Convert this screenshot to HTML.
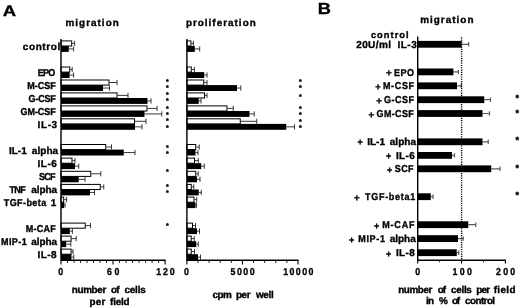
<!DOCTYPE html>
<html><head><meta charset="utf-8"><title>Figure</title>
<style>
html,body{margin:0;padding:0;background:#fff;}
svg{display:block;font-family:"Liberation Sans", sans-serif;font-weight:bold;fill:#000;}
text{stroke:#000;stroke-width:0.35px;text-rendering:geometricPrecision;}
</style></head><body>
<svg width="520" height="308" viewBox="0 0 520 308">
<rect width="520" height="308" fill="#fff"/>
<path d="M72.2 43.40H74.6M74.6 40.80V46.00" stroke="#222" stroke-width="0.9" fill="none"/>
<path d="M68.8 48.95H73.6M73.6 46.35V51.55" stroke="#222" stroke-width="0.9" fill="none"/>
<rect x="61.0" y="40.90" width="10.70" height="5.10" fill="#fff" stroke="#000" stroke-width="1"/>
<rect x="61.0" y="46.00" width="7.80" height="5.90" fill="#000"/>
<text x="22.79" y="49.9" style="font-size:10px;letter-spacing:0.603px;">control</text>
<path d="M70.2 69.50H72.2M72.2 66.90V72.10" stroke="#222" stroke-width="0.9" fill="none"/>
<path d="M69.6 75.05H73.6M73.6 72.45V77.65" stroke="#222" stroke-width="0.9" fill="none"/>
<rect x="61.0" y="67.00" width="8.70" height="5.10" fill="#fff" stroke="#000" stroke-width="1"/>
<rect x="61.0" y="72.10" width="8.60" height="5.90" fill="#000"/>
<text transform="translate(37.64 76.2) scale(0.9 1)" style="font-size:10px;letter-spacing:-0.719px;">EPO</text>
<path d="M109.5 82.50H117M117 79.90V85.10" stroke="#222" stroke-width="0.9" fill="none"/>
<path d="M103 88.05H109.5M109.5 85.45V90.65" stroke="#222" stroke-width="0.9" fill="none"/>
<rect x="61.0" y="80.00" width="48.00" height="5.10" fill="#fff" stroke="#000" stroke-width="1"/>
<rect x="61.0" y="85.10" width="42.00" height="5.90" fill="#000"/>
<text transform="translate(27.14 89.1) scale(0.9 1)" style="font-size:10px;letter-spacing:0.017px;">M-CSF</text>
<path d="M117.5 95.40H128M128 92.80V98.00" stroke="#222" stroke-width="0.9" fill="none"/>
<path d="M147.5 100.95H151M151 98.35V103.55" stroke="#222" stroke-width="0.9" fill="none"/>
<rect x="61.0" y="92.90" width="56.00" height="5.10" fill="#fff" stroke="#000" stroke-width="1"/>
<rect x="61.0" y="98.00" width="86.50" height="5.90" fill="#000"/>
<text transform="translate(28.62 101.9) scale(0.9 1)" style="font-size:10px;letter-spacing:-0.256px;">G-CSF</text>
<path d="M147.5 108.40H157M157 105.80V111.00" stroke="#222" stroke-width="0.9" fill="none"/>
<path d="M144.5 113.95H161.75M161.75 111.35V116.55" stroke="#222" stroke-width="0.9" fill="none"/>
<rect x="61.0" y="105.90" width="86.00" height="5.10" fill="#fff" stroke="#000" stroke-width="1"/>
<rect x="61.0" y="111.00" width="83.50" height="5.90" fill="#000"/>
<text transform="translate(20.52 114.6) scale(0.9 1)" style="font-size:10px;letter-spacing:-0.071px;">GM-CSF</text>
<path d="M135 121.30H146M146 118.70V123.90" stroke="#222" stroke-width="0.9" fill="none"/>
<path d="M135 126.85H142M142 124.25V129.45" stroke="#222" stroke-width="0.9" fill="none"/>
<rect x="61.0" y="118.80" width="73.50" height="5.10" fill="#fff" stroke="#000" stroke-width="1"/>
<rect x="61.0" y="123.90" width="74.00" height="5.90" fill="#000"/>
<text x="37.58" y="127.8" style="font-size:10px;letter-spacing:0.599px;">IL-3</text>
<path d="M106.25 147.00H111.5M111.5 144.40V149.60" stroke="#222" stroke-width="0.9" fill="none"/>
<path d="M123.75 152.55H135M135 149.95V155.15" stroke="#222" stroke-width="0.9" fill="none"/>
<rect x="61.0" y="144.50" width="44.75" height="5.10" fill="#fff" stroke="#000" stroke-width="1"/>
<rect x="61.0" y="149.60" width="62.75" height="5.90" fill="#000"/>
<text x="8.88" y="153.9" style="font-size:10px;letter-spacing:0.032px;">IL-1</text>
<text x="31.84" y="153.9" style="font-size:10px;letter-spacing:0.044px;">alpha</text>
<path d="M72.5 160.60H75M75 158.00V163.20" stroke="#222" stroke-width="0.9" fill="none"/>
<path d="M75 166.15H78.75M78.75 163.55V168.75" stroke="#222" stroke-width="0.9" fill="none"/>
<rect x="61.0" y="158.10" width="11.00" height="5.10" fill="#fff" stroke="#000" stroke-width="1"/>
<rect x="61.0" y="163.20" width="14.00" height="5.90" fill="#000"/>
<text x="37.58" y="167" style="font-size:10px;letter-spacing:0.499px;">IL-6</text>
<path d="M91.25 173.80H100.75M100.75 171.20V176.40" stroke="#222" stroke-width="0.9" fill="none"/>
<path d="M78.75 179.35H85M85 176.75V181.95" stroke="#222" stroke-width="0.9" fill="none"/>
<rect x="61.0" y="171.30" width="29.75" height="5.10" fill="#fff" stroke="#000" stroke-width="1"/>
<rect x="61.0" y="176.40" width="17.75" height="5.90" fill="#000"/>
<text transform="translate(39.06 179.9) scale(0.9 1)" style="font-size:10px;letter-spacing:-0.925px;">SCF</text>
<path d="M100.75 186.90H103.75M103.75 184.30V189.50" stroke="#222" stroke-width="0.9" fill="none"/>
<path d="M90 192.45H94.5M94.5 189.85V195.05" stroke="#222" stroke-width="0.9" fill="none"/>
<rect x="61.0" y="184.40" width="39.25" height="5.10" fill="#fff" stroke="#000" stroke-width="1"/>
<rect x="61.0" y="189.50" width="29.00" height="5.90" fill="#000"/>
<text transform="translate(9.50 192.8) scale(0.9 1)" style="font-size:10px;letter-spacing:-0.722px;">TNF</text>
<text x="31.34" y="192.8" style="font-size:10px;letter-spacing:-0.081px;">alpha</text>
<path d="M64.2 199.60H66.6M66.6 197.00V202.20" stroke="#222" stroke-width="0.9" fill="none"/>
<path d="M64 205.15H65M65 202.55V207.75" stroke="#222" stroke-width="0.9" fill="none"/>
<rect x="61.0" y="197.10" width="2.70" height="5.10" fill="#fff" stroke="#000" stroke-width="1"/>
<rect x="61.0" y="202.20" width="3.00" height="5.90" fill="#000"/>
<text transform="translate(3.80 205.8) scale(0.9 1)" style="font-size:10px;letter-spacing:0.452px;">TGF-beta</text>
<text x="50.63" y="205.8" style="font-size:10px;">1</text>
<path d="M85.75 225.60H90.5M90.5 223.00V228.20" stroke="#222" stroke-width="0.9" fill="none"/>
<path d="M69.8 231.15H72.4M72.4 228.55V233.75" stroke="#222" stroke-width="0.9" fill="none"/>
<rect x="61.0" y="223.10" width="24.25" height="5.10" fill="#fff" stroke="#000" stroke-width="1"/>
<rect x="61.0" y="228.20" width="8.80" height="5.90" fill="#000"/>
<text transform="translate(25.64 231.8) scale(0.9 1)" style="font-size:10px;letter-spacing:0.296px;">M-CAF</text>
<path d="M71.6 238.60H76.2M76.2 236.00V241.20" stroke="#222" stroke-width="0.9" fill="none"/>
<path d="M66.2 244.15H70.8M70.8 241.55V246.75" stroke="#222" stroke-width="0.9" fill="none"/>
<rect x="61.0" y="236.10" width="10.10" height="5.10" fill="#fff" stroke="#000" stroke-width="1"/>
<rect x="61.0" y="241.20" width="5.20" height="5.90" fill="#000"/>
<text transform="translate(0.94 244.7) scale(0.9 1)" style="font-size:10px;letter-spacing:0.495px;">MIP-1</text>
<text x="31.34" y="244.7" style="font-size:10px;letter-spacing:-0.081px;">alpha</text>
<path d="M71.6 251.60H73M73 249.00V254.20" stroke="#222" stroke-width="0.9" fill="none"/>
<path d="M71.4 257.15H73.8M73.8 254.55V259.75" stroke="#222" stroke-width="0.9" fill="none"/>
<rect x="61.0" y="249.10" width="10.10" height="5.10" fill="#fff" stroke="#000" stroke-width="1"/>
<rect x="61.0" y="254.20" width="10.40" height="5.90" fill="#000"/>
<text x="37.58" y="257.6" style="font-size:10px;letter-spacing:0.365px;">IL-8</text>
<path d="M191.4 43.40H193.4M193.4 40.80V46.00" stroke="#222" stroke-width="0.9" fill="none"/>
<path d="M194.8 48.95H199.7M199.7 46.35V51.55" stroke="#222" stroke-width="0.9" fill="none"/>
<rect x="186.9" y="40.90" width="4.00" height="5.10" fill="#fff" stroke="#000" stroke-width="1"/>
<rect x="186.9" y="46.00" width="7.90" height="5.90" fill="#000"/>
<path d="M191.8 69.50H194.4M194.4 66.90V72.10" stroke="#222" stroke-width="0.9" fill="none"/>
<path d="M204.25 75.05H207M207 72.45V77.65" stroke="#222" stroke-width="0.9" fill="none"/>
<rect x="186.9" y="67.00" width="4.40" height="5.10" fill="#fff" stroke="#000" stroke-width="1"/>
<rect x="186.9" y="72.10" width="17.35" height="5.90" fill="#000"/>
<path d="M204.25 82.50H207M207 79.90V85.10" stroke="#222" stroke-width="0.9" fill="none"/>
<path d="M237 88.05H240.75M240.75 85.45V90.65" stroke="#222" stroke-width="0.9" fill="none"/>
<rect x="186.9" y="80.00" width="16.85" height="5.10" fill="#fff" stroke="#000" stroke-width="1"/>
<rect x="186.9" y="85.10" width="50.10" height="5.90" fill="#000"/>
<path d="M205 95.40H207M207 92.80V98.00" stroke="#222" stroke-width="0.9" fill="none"/>
<path d="M198.75 100.95H201M201 98.35V103.55" stroke="#222" stroke-width="0.9" fill="none"/>
<rect x="186.9" y="92.90" width="17.60" height="5.10" fill="#fff" stroke="#000" stroke-width="1"/>
<rect x="186.9" y="98.00" width="11.85" height="5.90" fill="#000"/>
<path d="M227.5 108.40H233.25M233.25 105.80V111.00" stroke="#222" stroke-width="0.9" fill="none"/>
<path d="M249.5 113.95H254.25M254.25 111.35V116.55" stroke="#222" stroke-width="0.9" fill="none"/>
<rect x="186.9" y="105.90" width="40.10" height="5.10" fill="#fff" stroke="#000" stroke-width="1"/>
<rect x="186.9" y="111.00" width="62.60" height="5.90" fill="#000"/>
<path d="M240.75 121.30H256.75M256.75 118.70V123.90" stroke="#222" stroke-width="0.9" fill="none"/>
<path d="M286.25 126.85H294.5M294.5 124.25V129.45" stroke="#222" stroke-width="0.9" fill="none"/>
<rect x="186.9" y="118.80" width="53.35" height="5.10" fill="#fff" stroke="#000" stroke-width="1"/>
<rect x="186.9" y="123.90" width="99.35" height="5.90" fill="#000"/>
<path d="M196.25 147.00H199.25M199.25 144.40V149.60" stroke="#222" stroke-width="0.9" fill="none"/>
<path d="M195.5 152.55H198M198 149.95V155.15" stroke="#222" stroke-width="0.9" fill="none"/>
<rect x="186.9" y="144.50" width="8.85" height="5.10" fill="#fff" stroke="#000" stroke-width="1"/>
<rect x="186.9" y="149.60" width="8.60" height="5.90" fill="#000"/>
<path d="M195 160.60H198.25M198.25 158.00V163.20" stroke="#222" stroke-width="0.9" fill="none"/>
<path d="M201.25 166.15H204.25M204.25 163.55V168.75" stroke="#222" stroke-width="0.9" fill="none"/>
<rect x="186.9" y="158.10" width="7.60" height="5.10" fill="#fff" stroke="#000" stroke-width="1"/>
<rect x="186.9" y="163.20" width="14.35" height="5.90" fill="#000"/>
<path d="M196.25 173.80H198.25M198.25 171.20V176.40" stroke="#222" stroke-width="0.9" fill="none"/>
<path d="M197 179.35H200M200 176.75V181.95" stroke="#222" stroke-width="0.9" fill="none"/>
<rect x="186.9" y="171.30" width="8.85" height="5.10" fill="#fff" stroke="#000" stroke-width="1"/>
<rect x="186.9" y="176.40" width="10.10" height="5.90" fill="#000"/>
<path d="M191.75 186.90H193.75M193.75 184.30V189.50" stroke="#222" stroke-width="0.9" fill="none"/>
<path d="M198.75 192.45H201.25M201.25 189.85V195.05" stroke="#222" stroke-width="0.9" fill="none"/>
<rect x="186.9" y="184.40" width="4.35" height="5.10" fill="#fff" stroke="#000" stroke-width="1"/>
<rect x="186.9" y="189.50" width="11.85" height="5.90" fill="#000"/>
<path d="M194.5 199.60H196.75M196.75 197.00V202.20" stroke="#222" stroke-width="0.9" fill="none"/>
<path d="M195.5 205.15H196.5M196.5 202.55V207.75" stroke="#222" stroke-width="0.9" fill="none"/>
<rect x="186.9" y="197.10" width="7.10" height="5.10" fill="#fff" stroke="#000" stroke-width="1"/>
<rect x="186.9" y="202.20" width="8.60" height="5.90" fill="#000"/>
<path d="M193 225.60H195.5M195.5 223.00V228.20" stroke="#222" stroke-width="0.9" fill="none"/>
<path d="M197 231.15H199.5M199.5 228.55V233.75" stroke="#222" stroke-width="0.9" fill="none"/>
<rect x="186.9" y="223.10" width="5.60" height="5.10" fill="#fff" stroke="#000" stroke-width="1"/>
<rect x="186.9" y="228.20" width="10.10" height="5.90" fill="#000"/>
<path d="M191.75 238.60H194.25M194.25 236.00V241.20" stroke="#222" stroke-width="0.9" fill="none"/>
<path d="M196.25 244.15H198.25M198.25 241.55V246.75" stroke="#222" stroke-width="0.9" fill="none"/>
<rect x="186.9" y="236.10" width="4.35" height="5.10" fill="#fff" stroke="#000" stroke-width="1"/>
<rect x="186.9" y="241.20" width="9.35" height="5.90" fill="#000"/>
<path d="M191.75 251.60H194.5M194.5 249.00V254.20" stroke="#222" stroke-width="0.9" fill="none"/>
<path d="M198 257.15H200.5M200.5 254.55V259.75" stroke="#222" stroke-width="0.9" fill="none"/>
<rect x="186.9" y="249.10" width="4.35" height="5.10" fill="#fff" stroke="#000" stroke-width="1"/>
<rect x="186.9" y="254.20" width="11.10" height="5.90" fill="#000"/>
<path d="M61.0 39V260.3H165.6" stroke="#000" stroke-width="1.4" fill="none"/>
<path d="M61.00 260.3v4.2M113.05 260.3v4.2M165.10 260.3v4.2" stroke="#000" stroke-width="1.1" fill="none"/>
<path d="M67.51 260.3v2.6M74.01 260.3v2.6M80.52 260.3v2.6M87.03 260.3v2.6M93.53 260.3v2.6M100.04 260.3v2.6M106.54 260.3v2.6M119.56 260.3v2.6M126.06 260.3v2.6M132.57 260.3v2.6M139.07 260.3v2.6M145.58 260.3v2.6M152.09 260.3v2.6M158.59 260.3v2.6" stroke="#000" stroke-width="0.9" fill="none"/>
<path d="M186.9 39V260.3H298.5" stroke="#000" stroke-width="1.4" fill="none"/>
<path d="M186.90 260.3v4.2M242.45 260.3v4.2M298.00 260.3v4.2" stroke="#000" stroke-width="1.1" fill="none"/>
<path d="M198.01 260.3v2.6M209.12 260.3v2.6M220.23 260.3v2.6M231.34 260.3v2.6M253.56 260.3v2.6M264.67 260.3v2.6M275.78 260.3v2.6M286.89 260.3v2.6" stroke="#000" stroke-width="0.9" fill="none"/>
<text transform="translate(58.34 275.2) scale(0.88 1)" style="font-size:10px;">0</text>
<text transform="translate(107.12 275.2) scale(0.88 1)" style="font-size:10px;letter-spacing:2.777px;">60</text>
<text transform="translate(156.35 275.2) scale(0.88 1)" style="font-size:10px;letter-spacing:2.002px;">120</text>
<text transform="translate(184.04 275.2) scale(0.88 1)" style="font-size:10px;">0</text>
<text transform="translate(230.61 275.2) scale(0.88 1)" style="font-size:10px;letter-spacing:1.673px;">5000</text>
<text transform="translate(283.20 275.2) scale(0.88 1)" style="font-size:10px;letter-spacing:1.615px;">10000</text>
<text x="167.4" y="83.54" text-anchor="middle" style="font-size:7px">*</text>
<text x="167.4" y="90.44" text-anchor="middle" style="font-size:7px">*</text>
<text x="167.4" y="96.84" text-anchor="middle" style="font-size:7px">*</text>
<text x="167.4" y="103.14" text-anchor="middle" style="font-size:7px">*</text>
<text x="167.4" y="110.54" text-anchor="middle" style="font-size:7px">*</text>
<text x="167.4" y="116.84" text-anchor="middle" style="font-size:7px">*</text>
<text x="167.4" y="123.24" text-anchor="middle" style="font-size:7px">*</text>
<text x="167.4" y="129.54" text-anchor="middle" style="font-size:7px">*</text>
<text x="167.4" y="149.94" text-anchor="middle" style="font-size:7px">*</text>
<text x="167.4" y="155.84" text-anchor="middle" style="font-size:7px">*</text>
<text x="167.4" y="174.34" text-anchor="middle" style="font-size:7px">*</text>
<text x="167.4" y="188.94" text-anchor="middle" style="font-size:7px">*</text>
<text x="167.4" y="194.74" text-anchor="middle" style="font-size:7px">*</text>
<text x="167.4" y="227.84" text-anchor="middle" style="font-size:7px">*</text>
<text x="300.4" y="83.54" text-anchor="middle" style="font-size:7px">*</text>
<text x="300.4" y="89.84" text-anchor="middle" style="font-size:7px">*</text>
<text x="300.4" y="99.34" text-anchor="middle" style="font-size:7px">*</text>
<text x="300.4" y="110.94" text-anchor="middle" style="font-size:7px">*</text>
<text x="300.4" y="116.84" text-anchor="middle" style="font-size:7px">*</text>
<text x="300.4" y="124.04" text-anchor="middle" style="font-size:7px">*</text>
<text x="300.4" y="129.94" text-anchor="middle" style="font-size:7px">*</text>
<text transform="translate(2.81 16.2) scale(1.215 1)" style="font-size:15.2px">A</text>
<text transform="translate(317.76 14.3) scale(1.133 1)" style="font-size:16.1px">B</text>
<text x="65.48" y="26.2" style="font-size:9.9px;letter-spacing:1.037px;">migration</text>
<text x="185.88" y="26.1" style="font-size:9.9px;letter-spacing:1.020px;">proliferation</text>
<text x="420.18" y="22.7" style="font-size:9.9px;letter-spacing:1.037px;">migration</text>
<text x="71.78" y="293" style="font-size:9.9px;letter-spacing:-0.349px;">number</text>
<text x="110.89" y="293" style="font-size:9.9px;letter-spacing:-0.741px;">of</text>
<text x="124.39" y="293" style="font-size:9.9px;letter-spacing:-0.152px;">cells</text>
<text x="89.58" y="304.5" style="font-size:9.9px;letter-spacing:0.177px;">per</text>
<text x="110.05" y="304.5" style="font-size:9.9px;letter-spacing:-0.191px;">field</text>
<text x="212.39" y="297.6" style="font-size:9.9px;letter-spacing:-0.471px;">cpm</text>
<text x="235.88" y="297.6" style="font-size:9.9px;letter-spacing:-0.373px;">per</text>
<text x="255.95" y="297.6" style="font-size:9.9px;letter-spacing:-0.292px;">well</text>
<path d="M461.6 44.30H468.6M468.6 42.10V46.50" stroke="#5a5a5a" stroke-width="1.2" fill="none"/>
<rect x="417.7" y="40.90" width="43.90" height="6.80" fill="#000"/>
<text x="356.19" y="48" style="font-size:10px;letter-spacing:0.402px;">20U/ml</text>
<text x="397.48" y="48" style="font-size:10px;letter-spacing:0.499px;">IL-3</text>
<path d="M453.4 71.90H458.4M458.4 69.70V74.10" stroke="#5a5a5a" stroke-width="1.2" fill="none"/>
<rect x="417.7" y="68.50" width="35.70" height="6.80" fill="#000"/>
<text x="385.90" y="76.2" style="font-size:9.7px;">+</text>
<text transform="translate(393.94 75.5) scale(0.9 1)" style="font-size:10px;letter-spacing:0.615px;">EPO</text>
<path d="M457 85.80H461.25M461.25 83.60V88.00" stroke="#5a5a5a" stroke-width="1.2" fill="none"/>
<rect x="417.7" y="82.40" width="39.30" height="6.80" fill="#000"/>
<text x="375.20" y="90.1" style="font-size:9.5px;">+</text>
<text transform="translate(382.94 89.4) scale(0.9 1)" style="font-size:10px;letter-spacing:0.740px;">M-CSF</text>
<path d="M484.25 99.70H490.5M490.5 97.50V101.90" stroke="#5a5a5a" stroke-width="1.2" fill="none"/>
<rect x="417.7" y="96.30" width="66.55" height="6.80" fill="#000"/>
<text x="376.20" y="103.9" style="font-size:9.7px;">+</text>
<text transform="translate(383.92 103.2) scale(0.9 1)" style="font-size:10px;letter-spacing:0.605px;">G-CSF</text>
<path d="M482.5 113.50H489.5M489.5 111.30V115.70" stroke="#5a5a5a" stroke-width="1.2" fill="none"/>
<rect x="417.7" y="110.10" width="64.80" height="6.80" fill="#000"/>
<text x="368.50" y="117.6" style="font-size:9.7px;">+</text>
<text transform="translate(376.52 116.9) scale(0.9 1)" style="font-size:10px;letter-spacing:0.396px;">GM-CSF</text>
<path d="M482.5 141.80H488.25M488.25 139.60V144.00" stroke="#5a5a5a" stroke-width="1.2" fill="none"/>
<rect x="417.7" y="138.40" width="64.80" height="6.80" fill="#000"/>
<text x="357.51" y="145.2" style="font-size:9.12px;">+</text>
<text x="367.18" y="144.5" style="font-size:10px;letter-spacing:-0.001px;">IL-1</text>
<text x="389.74" y="144.5" style="font-size:10px;letter-spacing:0.044px;">alpha</text>
<path d="M452 155.40H454.5M454.5 153.20V157.60" stroke="#5a5a5a" stroke-width="1.2" fill="none"/>
<rect x="417.7" y="152.00" width="34.30" height="6.80" fill="#000"/>
<text x="385.92" y="159.3" style="font-size:8.92px;">+</text>
<text x="395.88" y="158.6" style="font-size:10px;letter-spacing:0.365px;">IL-6</text>
<path d="M491.25 168.80H500M500 166.60V171.00" stroke="#5a5a5a" stroke-width="1.2" fill="none"/>
<rect x="417.7" y="165.40" width="73.55" height="6.80" fill="#000"/>
<text x="387.02" y="173.0" style="font-size:8.92px;">+</text>
<text transform="translate(394.86 172.3) scale(0.9 1)" style="font-size:10px;letter-spacing:0.353px;">SCF</text>
<path d="M430.75 196.70H433M433 194.50V198.90" stroke="#5a5a5a" stroke-width="1.2" fill="none"/>
<rect x="417.7" y="193.30" width="13.05" height="6.80" fill="#000"/>
<text x="353.90" y="200.7" style="font-size:9.7px;">+</text>
<text transform="translate(365.00 200) scale(0.9 1)" style="font-size:10px;letter-spacing:0.795px;">TGF-beta1</text>
<path d="M468.25 224.70H475.75M475.75 222.50V226.90" stroke="#5a5a5a" stroke-width="1.2" fill="none"/>
<rect x="417.7" y="221.30" width="50.55" height="6.80" fill="#000"/>
<text x="373.92" y="228.8" style="font-size:8.92px;">+</text>
<text transform="translate(382.14 228.1) scale(0.9 1)" style="font-size:10px;letter-spacing:0.935px;">M-CAF</text>
<path d="M458 238.60H463.25M463.25 236.40V240.80" stroke="#5a5a5a" stroke-width="1.2" fill="none"/>
<rect x="417.7" y="235.20" width="40.30" height="6.80" fill="#000"/>
<text x="349.02" y="242.6" style="font-size:8.92px;">+</text>
<text transform="translate(358.24 241.9) scale(0.9 1)" style="font-size:10px;letter-spacing:0.745px;">MIP-1</text>
<text x="389.74" y="241.9" style="font-size:10px;letter-spacing:-0.031px;">alpha</text>
<path d="M456.75 252.70H458.75M458.75 250.50V254.90" stroke="#5a5a5a" stroke-width="1.2" fill="none"/>
<rect x="417.7" y="249.30" width="39.05" height="6.80" fill="#000"/>
<text x="385.92" y="256.5" style="font-size:8.92px;">+</text>
<text x="395.88" y="255.8" style="font-size:10px;letter-spacing:0.365px;">IL-8</text>
<text x="370.91" y="38.4" style="font-size:9.3px;letter-spacing:1.038px;">control</text>
<path d="M461.6 37.3V260.3" stroke="#000" stroke-width="1.4" stroke-dasharray="1.15 1.15" fill="none"/>
<path d="M417.7 36.5V260.3H505.9" stroke="#000" stroke-width="1.4" fill="none"/>
<path d="M417.70 260.3v3.1M461.55 260.3v3.1M505.40 260.3v3.1" stroke="#000" stroke-width="1.1" fill="none"/>
<path d="M439.62 260.3v2.0M483.47 260.3v2.0" stroke="#000" stroke-width="0.9" fill="none"/>
<text transform="translate(415.29 275.2) scale(0.88 1)" style="font-size:10px;">0</text>
<text transform="translate(452.55 275.2) scale(0.88 1)" style="font-size:10px;letter-spacing:2.627px;">100</text>
<text transform="translate(495.93 275.2) scale(0.88 1)" style="font-size:10px;letter-spacing:2.642px;">200</text>
<text x="517.3" y="101.48" text-anchor="middle" style="font-size:9px">*</text>
<text x="517.3" y="115.78" text-anchor="middle" style="font-size:9px">*</text>
<text x="517.3" y="142.68" text-anchor="middle" style="font-size:9px">*</text>
<text x="517.3" y="171.38" text-anchor="middle" style="font-size:9px">*</text>
<text x="517.3" y="198.38" text-anchor="middle" style="font-size:9px">*</text>
<text x="398.18" y="292.6" style="font-size:9.9px;letter-spacing:-0.389px;">number</text>
<text x="437.79" y="292.6" style="font-size:9.9px;letter-spacing:-1.041px;">of</text>
<text x="450.99" y="292.6" style="font-size:9.9px;letter-spacing:-0.277px;">cells</text>
<text x="476.28" y="292.6" style="font-size:9.9px;letter-spacing:-0.773px;">per</text>
<text x="493.65" y="292.6" style="font-size:9.9px;letter-spacing:0.384px;">field</text>
<text x="425.88" y="304.2" style="font-size:9.9px;letter-spacing:-0.701px;">in</text>
<text x="438.89" y="304.2" style="font-size:9.9px;">%</text>
<text x="451.89" y="304.2" style="font-size:9.9px;letter-spacing:-1.041px;">of</text>
<text x="465.09" y="304.2" style="font-size:9.9px;letter-spacing:-0.576px;">control</text>
</svg>
</body></html>
